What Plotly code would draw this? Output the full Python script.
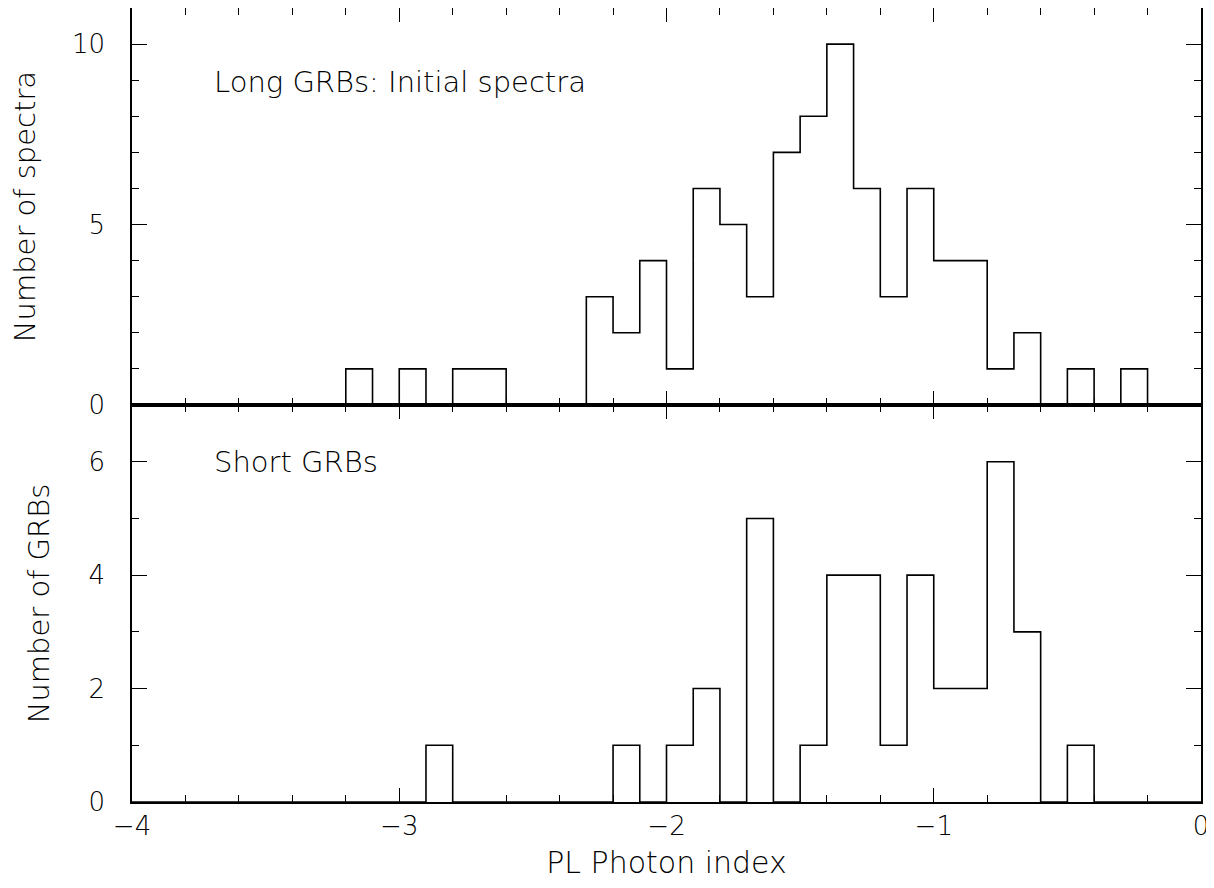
import plotly.graph_objects as go
from plotly.subplots import make_subplots

# Bin left edges (width 0.1) of the PL photon index histogram
bin_left = [-4.0, -3.9, -3.8, -3.7, -3.6, -3.5, -3.4, -3.3, -3.2, -3.1,
            -3.0, -2.9, -2.8, -2.7, -2.6, -2.5, -2.4, -2.3, -2.2, -2.1,
            -2.0, -1.9, -1.8, -1.7, -1.6, -1.5, -1.4, -1.3, -1.2, -1.1,
            -1.0, -0.9, -0.8, -0.7, -0.6, -0.5, -0.4, -0.3, -0.2, -0.1]
bin_right_end = 0.0

# Long GRBs: initial spectra (counts per bin)
long_counts = [0, 0, 0, 0, 0, 0, 0, 0, 1, 0,
               1, 0, 1, 1, 0, 0, 0, 3, 2, 4,
               1, 6, 5, 3, 7, 8, 10, 6, 3, 6,
               4, 4, 1, 2, 0, 1, 0, 1, 0, 0]

# Short GRBs (counts per bin)
short_counts = [0, 0, 0, 0, 0, 0, 0, 0, 0, 0,
                0, 1, 0, 0, 0, 0, 0, 0, 1, 0,
                1, 2, 0, 5, 0, 1, 4, 4, 1, 4,
                2, 2, 6, 3, 0, 1, 0, 0, 0, 0]

panel_labels = ["Long GRBs: Initial spectra", "Short GRBs"]
y_titles = ["Number of spectra", "Number of GRBs"]
x_title = "PL Photon index"

FONT = "DejaVu Sans"
WEIGHT = 300

edges = bin_left + [bin_right_end]

fig = make_subplots(rows=2, cols=1, shared_xaxes=True, vertical_spacing=0)

for row, counts in ((1, long_counts), (2, short_counts)):
    fig.add_trace(go.Scatter(
        x=edges, y=counts + [0], mode="lines", line_shape="hv",
        line=dict(color="black", width=1.6), showlegend=False,
        hoverinfo="skip"), row=row, col=1)

tfont = dict(family=FONT, size=26, color="black", weight=WEIGHT)
axis_common = dict(showline=True, linecolor="black", linewidth=1.6,
                   mirror="allticks", ticks="inside", tickcolor="black",
                   tickwidth=1.4, showgrid=False, zeroline=False,
                   tickfont=tfont, ticklabeloverflow="allow")

xminor = dict(dtick=0.2, ticklen=7, ticks="inside", tickcolor="black",
              tickwidth=1.4, showgrid=False)

fig.update_xaxes(range=[-4, 0], dtick=1, tick0=0, ticklen=14, minor=xminor,
                 **axis_common)
fig.update_xaxes(showticklabels=False, row=1, col=1)
fig.update_xaxes(showticklabels=True, ticklabelstandoff=0,
                 title=dict(text=x_title, standoff=31,
                            font=dict(family=FONT, size=30, color="black",
                                      weight=WEIGHT)),
                 row=2, col=1)

yminor = dict(dtick=1, ticklen=7, ticks="inside", tickcolor="black",
              tickwidth=1.4, showgrid=False)

fig.update_yaxes(range=[0, 11], dtick=5, ticklen=15, minor=yminor,
                 ticklabelstandoff=20,
                 title=dict(text=y_titles[0], standoff=30,
                            font=dict(family=FONT, size=29, color="black",
                                      weight=WEIGHT)),
                 row=1, col=1, **axis_common)
fig.update_yaxes(range=[0, 7], dtick=2, ticklen=15, minor=yminor,
                 ticklabelstandoff=20,
                 title=dict(text=y_titles[1], standoff=30,
                            font=dict(family=FONT, size=29, color="black",
                                      weight=WEIGHT)),
                 row=2, col=1, **axis_common)

afont = dict(family=FONT, size=29, color="black", weight=WEIGHT)
fig.add_annotation(x=-3.7, y=8.95, xref="x", yref="y", text=panel_labels[0],
                   showarrow=False, xanchor="left", yanchor="middle",
                   font=afont)
fig.add_annotation(x=-3.7, y=6.0, xref="x2", yref="y2", text=panel_labels[1],
                   showarrow=False, xanchor="left", yanchor="middle",
                   font=afont)

fig.update_layout(width=1206, height=872,
                  margin=dict(l=124, r=13, t=0, b=78, autoexpand=False),
                  plot_bgcolor="white", paper_bgcolor="white",
                  font=dict(family=FONT, color="black", weight=WEIGHT))

fig.write_html("out.html")
